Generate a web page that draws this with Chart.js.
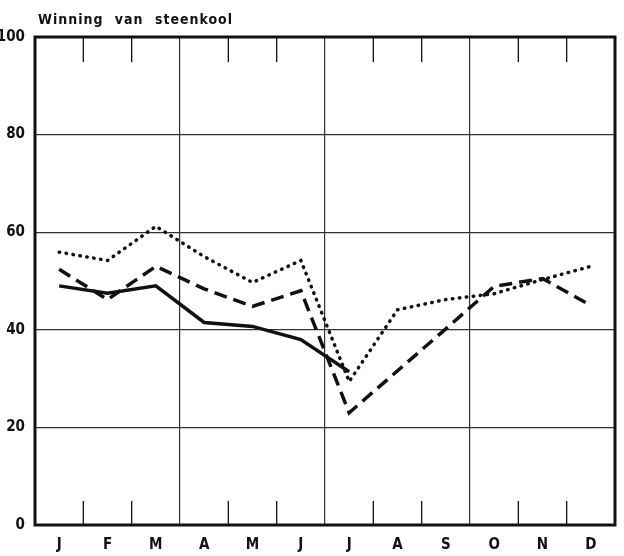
<!DOCTYPE html>
<html>
<head>
<meta charset="utf-8">
<script src="https://cdn.jsdelivr.net/npm/chart.js@4"></script>
<style>
  body { margin: 0; background: #fff; }
  #wrap { position: relative; width: 624px; height: 556px; }
  #title {
    position: absolute; left: 38px; top: 11px;
    font: bold 14px "Liberation Sans Narrow", "DejaVu Sans Condensed", sans-serif;
    letter-spacing: 1px; word-spacing: 6px; color: #111;
  }
</style>
</head>
<body>
<div id="wrap">
  <div id="title">Winning van steenkool</div>
  <canvas id="chart" width="624" height="556"></canvas>
</div>
<script>
// months (Dutch initials)
const months = ['J', 'F', 'M', 'A', 'M', 'J', 'J', 'A', 'S', 'O', 'N', 'D'];
const yTicks = [0, 20, 40, 60, 80, 100];

// three series
const solidValues = [49, 47.5, 49, 41.5, 40.7, 38, 31.4, null, null, null, null, null];
const dashedValues = [52.4, 46.2, 53, 48.4, 44.8, 48, 23, 31.6, 40.2, 48.9, 50.5, 45];
const dottedValues = [55.9, 54.2, 61.2, 55, 49.7, 54.2, 29.4, 44.1, 46.2, 47.4, 50.3, 53];

const labelFont = { family: '"Liberation Sans Narrow", "DejaVu Sans Condensed", sans-serif', size: 15, weight: 'bold' };

// frame plus short month ticks at top and bottom
const framePlugin = {
  id: 'frame',
  afterDatasetsDraw(chart) {
    const { ctx, chartArea: a, scales: { x } } = chart;
    ctx.save();
    ctx.strokeStyle = '#111';
    ctx.lineWidth = 1.3;
    for (let i = 1; i < months.length; i++) {
      if (i % 3 === 0) continue;
      const px = (x.getPixelForValue(i - 1) + x.getPixelForValue(i)) / 2;
      ctx.beginPath();
      ctx.moveTo(px, a.top);
      ctx.lineTo(px, a.top + 25);
      ctx.moveTo(px, a.bottom);
      ctx.lineTo(px, a.bottom - 24);
      ctx.stroke();
    }
    ctx.lineWidth = 3;
    ctx.strokeRect(a.left, a.top, a.right - a.left, a.bottom - a.top);
    ctx.restore();
  }
};

new Chart(document.getElementById('chart'), {
  type: 'line',
  data: {
    labels: months,
    datasets: [
      {
        data: solidValues,
        borderColor: '#111',
        borderWidth: 3.5,
        pointRadius: 0,
        tension: 0,
        spanGaps: false
      },
      {
        data: dashedValues,
        borderColor: '#111',
        borderWidth: 3.5,
        borderDash: [13, 7],
        pointRadius: 0,
        tension: 0
      },
      {
        data: dottedValues,
        borderColor: '#111',
        borderWidth: 3.5,
        borderDash: [0.5, 6.5],
        borderCapStyle: 'round',
        pointRadius: 0,
        tension: 0
      }
    ]
  },
  options: {
    responsive: false,
    animation: false,
    layout: { padding: { top: 37, right: 9 } },
    plugins: {
      legend: { display: false },
      tooltip: { enabled: false }
    },
    scales: {
      x: {
        type: 'category',
        offset: true,
        grid: {
          offset: true,
          drawTicks: false,
          color: (c) => (c.index % 3 === 0 ? '#333' : 'rgba(0,0,0,0)'),
          lineWidth: 1.2
        },
        border: { display: false },
        ticks: {
          color: '#111',
          font: labelFont,
          padding: 11,
          maxRotation: 0,
          autoSkip: false
        },
        afterFit(scale) { scale.height = 31; }
      },
      y: {
        min: 0,
        max: 100,
        afterBuildTicks(scale) { scale.ticks = yTicks.map(v => ({ value: v })); },
        grid: {
          drawTicks: false,
          color: '#333',
          lineWidth: 1.2
        },
        border: { display: false },
        ticks: {
          color: '#111',
          font: labelFont,
          padding: 10
        },
        afterFit(scale) { scale.width = 35; }
      }
    }
  },
  plugins: [framePlugin]
});
</script>
</body>
</html>
